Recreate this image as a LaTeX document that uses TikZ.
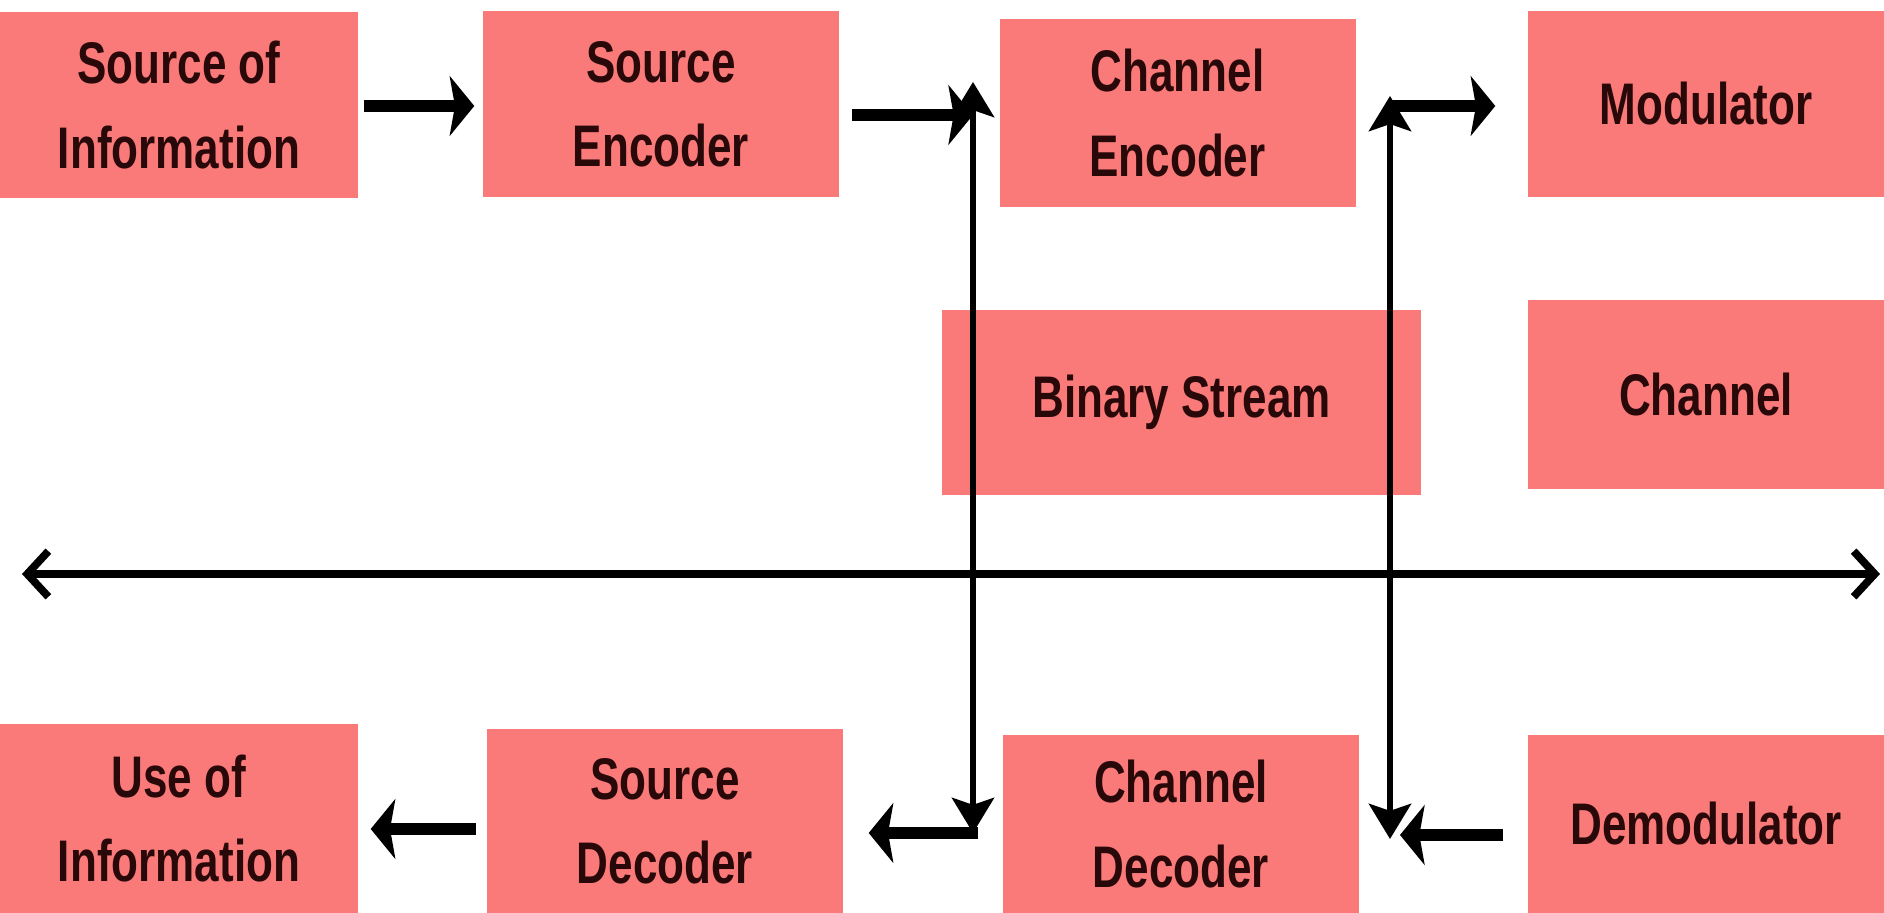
\documentclass[tikz,border=0pt]{standalone}
\usepackage{fontspec}
\usepackage{xcolor}
\usepackage{tikz}
\usetikzlibrary{arrows.meta}
\newfontfamily\boxfont[FakeStretch=0.75]{Liberation Sans}
\definecolor{boxpink}{RGB}{250,122,122}
\definecolor{boxtext}{RGB}{40,8,8}

\begin{document}
\begin{tikzpicture}[
    blk/.style={fill=boxpink, draw=none, minimum width=3.56cm, minimum height=1.86cm,
        align=center, text=boxtext, font=\boxfont\bfseries\fontsize{16.7}{24}\selectfont},
    bigarrow/.style={line width=3.6pt, -{Stealth[width=17pt,length=7pt,inset=1.5pt]}},
    thinarrow/.style={line width=1.6pt, {Stealth[width=12pt,length=10pt,inset=2pt]}-{Stealth[width=12pt,length=10pt,inset=2pt]}},
    busline/.style={line width=2.2pt, {Straight Barb[width=13pt,length=6pt]}-{Straight Barb[width=13pt,length=6pt]}}]
    \useasboundingbox (0,0) rectangle (18.84,9.13);
    \node[blk, minimum width=3.58cm] (srcinfo) at (1.79,8.08) {Source of\\Information};
    \node[blk] (srcenc) at (6.61,8.09) {Source\\Encoder};
    \node[blk, minimum height=1.88cm] (chenc) at (11.775,8.00) {Channel\\Encoder};
    \node[blk] (modul) at (17.06,8.09) {Modulator};
    \node[blk, minimum width=4.79cm, minimum height=1.85cm] (binstream) at (11.815,5.105) {Binary Stream};
    \node[blk, minimum height=1.89cm] (chan) at (17.06,5.185) {Channel};
    \node[blk, minimum width=3.58cm, minimum height=1.89cm] (useinfo) at (1.79,0.945) {Use of\\Information};
    \node[blk, minimum height=1.84cm] (srcdec) at (6.65,0.92) {Source\\Decoder};
    \node[blk, minimum height=1.78cm] (chdec) at (11.81,0.89) {Channel\\Decoder};
    \node[blk, minimum height=1.78cm] (demod) at (17.06,0.89) {Demodulator};
    \coordinate (v1top) at (9.73,8.31);
    \coordinate (v1bot) at (9.73,0.80);
    \coordinate (v2top) at (13.90,8.17);
    \coordinate (v2bot) at (13.90,0.74);
    \coordinate (j1) at (9.73,7.98);
    \coordinate (j2) at (13.90,8.07);
    \coordinate (j3) at (9.78,0.80);
    \coordinate (j4) at (14.00,0.78);
    \coordinate (busL) at (0.22,3.39);
    \coordinate (busR) at (18.80,3.39);
    \draw[busline] (busL) -- (busR);
    \draw[thinarrow] (v1bot) -- (v1top);
    \draw[thinarrow] (v2bot) -- (v2top);
    \draw[bigarrow, shorten <=0.05cm, shorten >=0.08cm] (srcinfo.east |- 0,8.07) -- (srcenc.west |- 0,8.07);
    \draw[bigarrow, shorten <=0.12cm] (srcenc.east |- j1) -- (j1);
    \draw[bigarrow, shorten >=0.32cm] (j2) -- (modul.west |- j2);
    \draw[bigarrow, shorten >=0.25cm] (j3) -- (srcdec.east |- j3);
    \draw[bigarrow, shorten <=0.24cm] (demod.west |- j4) -- (j4);
    \draw[bigarrow, shorten <=0.10cm, shorten >=0.12cm] (srcdec.west |- 0,0.84) -- (useinfo.east |- 0,0.84);
\end{tikzpicture}
\end{document}
